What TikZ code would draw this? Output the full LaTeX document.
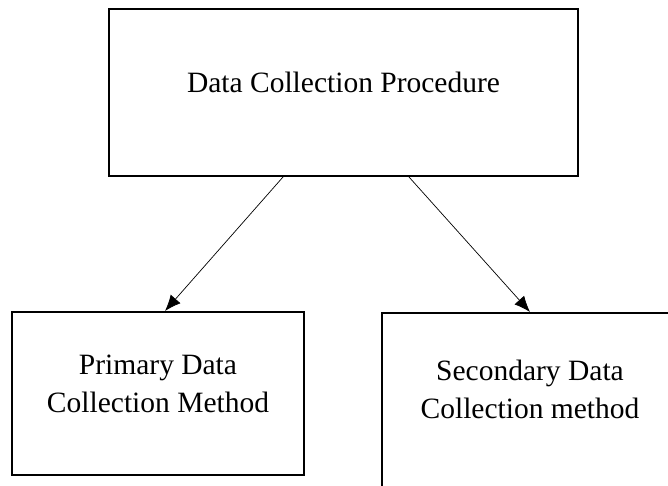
\documentclass[tikz,border=0pt]{standalone}
\usepackage{fontspec}
\setmainfont{Liberation Serif}
\usetikzlibrary{arrows.meta}

\begin{document}
\begin{tikzpicture}[x=1pt,y=-1pt,
  box/.style={draw,line width=2pt,align=center,inner sep=0pt,
    font=\fontsize{29.5}{37.5}\selectfont},
  link/.style={line width=0.7pt,-{Latex[length=16pt,width=13pt]}}]
  \path[use as bounding box,clip] (0,0) rectangle (668,485);

  \node[box,minimum width=469pt,minimum height=167pt,text depth=20pt] (proc) at (343.5,92.5) {Data Collection Procedure};
  \node[box,minimum width=292pt,minimum height=163pt,text depth=20pt] (prim) at (158,393.5) {Primary Data\\Collection Method};
  \node[box,minimum width=296pt,minimum height=190pt,text depth=37pt] (sec) at (530,408) {Secondary Data\\Collection method};

  \draw[link] ([xshift=-60.5pt]proc.south) -- ([xshift=7pt]prim.north);
  \draw[link] ([xshift=65.5pt]proc.south) -- (sec.north);
\end{tikzpicture}
\end{document}
